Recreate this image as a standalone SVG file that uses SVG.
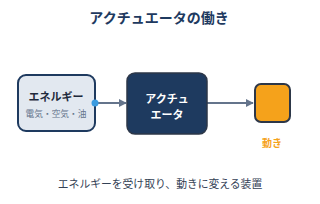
<svg xmlns="http://www.w3.org/2000/svg" width="320" height="204" viewBox="0 0 320 204">
<style>
text{font-family:"Noto Sans CJK JP","Noto Sans",sans-serif;text-anchor:middle;dominant-baseline:central}
.t{font-size:14px;font-weight:bold;fill:#1e3a5f}
.b{font-size:11px;font-weight:bold}
.conn{stroke:#64748b;stroke-width:2;fill:none}
</style>
<defs>
<marker id="ah" viewBox="0 0 10 10" refX="9" refY="5" markerWidth="4" markerHeight="4" orient="auto"><path d="M0,0 L10,5 L0,10 z" fill="#64748b"/></marker>
</defs>
<rect width="320" height="204" fill="#ffffff"/>
<text class="t" x="159" y="17">アクチュエータの働き</text>
<g id="connectors">
<line class="conn" x1="96" y1="103" x2="126" y2="103" marker-end="url(#ah)"/>
<line class="conn" x1="207" y1="103" x2="253" y2="103" marker-end="url(#ah)"/>
</g>
<g id="energy">
<rect x="18" y="75" width="77" height="56" rx="8" fill="#e2e8f0" stroke="#1e3a5f" stroke-width="2"/>
<text class="b" x="56" y="96" fill="#1e293b">エネルギー</text>
<text x="56" y="113" font-size="8.7" fill="#64748b">電気・空気・油</text>
<circle cx="95" cy="103" r="3.5" fill="#3b9be0"/>
</g>
<g id="actuator">
<rect x="127" y="73" width="80" height="61" rx="8" fill="#1e3a5f" stroke="#2d3748" stroke-width="1.5"/>
<text class="b" x="167" y="98" fill="#ffffff">アクチュ</text>
<text class="b" x="167" y="114" fill="#ffffff">エータ</text>
</g>
<g id="motion">
<rect x="255" y="84" width="35" height="38" rx="6" fill="#f5a21b" stroke="#2d3748" stroke-width="2"/>
<text x="272" y="142" font-size="10" font-weight="bold" fill="#f5a21b">動き</text>
</g>
<text x="160" y="183" font-size="10.8" fill="#334155">エネルギーを受け取り、動きに変える装置</text>
</svg>
